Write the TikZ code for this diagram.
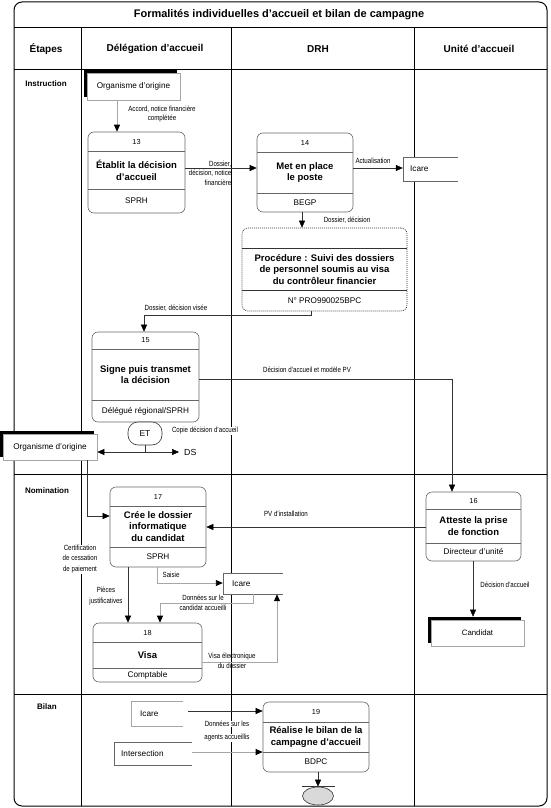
\documentclass[tikz,border=0pt]{standalone}
\usepackage{fontspec}
\setmainfont{Liberation Sans}
\newfontfamily\narrowf[FakeStretch=0.82]{Liberation Sans}
\usetikzlibrary{arrows.meta,shadows,calc,shapes.geometric}
\definecolor{bord}{gray}{0.4}
\definecolor{lite}{gray}{0.65}
\definecolor{dk}{gray}{0.2}
\newcommand\myfs[2]{\fontsize{#1}{#2}\selectfont}
\newcommand\procbox[9]{%
  \node[proc,minimum width={#4-#2},minimum height={#5-#3}] (p#1) at ({(#2+#4)/2},{(#3+#5)/2}) {};
  \draw[divl] (#2,#6) -- (#4,#6) (#2,#7) -- (#4,#7);
  \node[numt] (p#1n) at ({(#2+#4)/2},{(#3+#6)/2}) {#1};
  \node[titt] (p#1t) at ({(#2+#4)/2},{(#6+#7)/2}) {#8};
  \node[rolet] (p#1r) at ({(#2+#4)/2},{(#7+#5)/2}) {#9};
}
\newcommand\storebox[8]{%
  \node[storen,minimum width={#4-#2},minimum height={#5-#3}] (#1) at ({(#2+#4)/2},{(#3+#5)/2}) {};
  \draw[#7] (#1.north east) -- (#1.north west) -- (#1.south west) -- (#1.south east);
  \node[storet,anchor=west] (#1t) at (#8,{(#3+#5)/2}) {#6};
}
\begin{document}
\begin{tikzpicture}[x=1pt,y=-1pt,
  proc/.style={draw=bord,line width=0.6pt,rounded corners=6pt,fill=white,inner sep=0pt},
  divl/.style={draw=bord,line width=0.6pt},
  numt/.style={font=\myfs{7.3}{8},inner sep=0pt},
  titt/.style={font=\bfseries\myfs{9.5}{11.8},align=center,inner sep=0pt},
  rolet/.style={font=\myfs{8.2}{9},inner sep=0pt},
  lab/.style={font=\narrowf\myfs{7.5}{9.5},align=center,inner sep=0.5pt},
  wlab/.style={lab,fill=white},
  ext/.style={draw=lite,line width=0.6pt,fill=white,inner sep=0pt,font=\myfs{8.2}{9},
    general shadow={fill=black,shadow xshift=-3pt,shadow yshift=3pt}},
  storen/.style={fill=white,inner sep=0pt},
  storet/.style={font=\myfs{8.2}{9},inner sep=0pt},
  sdark/.style={draw=bord,line width=0.6pt},
  slite/.style={draw=lite,line width=1pt},
  darrow/.style={draw=dk,line width=0.5pt,-{Triangle[length=7pt,width=6pt,color=black]}},
  garrow/.style={draw=lite,line width=0.9pt,-{Triangle[length=7pt,width=6pt,color=black]}},
  gridl/.style={line width=0.9pt,draw=black},
  head/.style={font=\bfseries\myfs{10}{11},inner sep=0pt},
  rowl/.style={font=\bfseries\myfs{8}{9},inner sep=0pt}
]
\useasboundingbox (0,0) rectangle (550,808);
% frame and grid
\draw[line width=1pt,rounded corners=8pt] (14,2) rectangle (547,806);
\draw[gridl] (14,27) -- (547,27);
\draw[gridl] (14,69) -- (547,69);
\draw[gridl] (14,474) -- (547,474);
\draw[gridl] (14,694) -- (547,694);
\draw[gridl] (81,27) -- (81,806);
\draw[gridl] (231,27) -- (231,806);
\draw[gridl] (414,27) -- (414,806);
% titles
\node[font=\bfseries\myfs{11}{12},inner sep=0pt] (title) at (279,14.5) {Formalités individuelles d’accueil et bilan de campagne};
\node[head] (h1) at (46,49) {Étapes};
\node[head] (h2) at (155,49) {Délégation d’accueil};
\node[head] (h3) at (318,49) {DRH};
\node[head] (h4) at (479,49) {Unité d’accueil};
\node[rowl] (r1) at (46,84) {Instruction};
\node[rowl] (r2) at (47,491) {Nomination};
\node[rowl] (r3) at (47,707) {Bilan};
% external entities
\node[ext,minimum width=93,minimum height=27] (org1) at (133.5,86.5) {Organisme d’origine};
\node[ext,minimum width=94,minimum height=26] (org2) at (50,447) {Organisme d’origine};
\node[ext,minimum width=93,minimum height=26,font=\myfs{7.8}{9}] (cand) at (477.5,633) {Candidat};
% process boxes
\procbox{13}{88}{132}{185}{213}{151}{189}{Établit la décision\\d’accueil}{SPRH}
\procbox{14}{257}{133}{353}{212}{152}{193}{Met en place\\le poste}{BEGP}
\procbox{15}{92}{332}{199}{422}{349}{400}{Signe puis transmet\\la décision}{Délégué régional/SPRH}
\procbox{16}{426}{492}{521}{561}{509}{543}{Atteste la prise\\de fonction}{Directeur d’unité}
\procbox{17}{110}{487}{206}{567}{506}{547}{Crée le dossier\\informatique\\du candidat}{SPRH}
\procbox{18}{93}{623}{202}{682}{642}{668}{Visa}{Comptable}
\procbox{19}{263}{702}{369}{772}{722}{752}{Réalise le bilan de la\\campagne d’accueil}{BDPC}
% procedure (dotted)
\node[proc,draw=dk,dash pattern=on 1pt off 1pt,minimum width=165,minimum height=83] (proc) at (324.5,269.5) {};
\draw[divl,draw=dk] (242,248) -- (407,248) (242,290) -- (407,290);
\node[titt] (proct) at (324.5,269.5) {Procédure : Suivi des dossiers\\de personnel soumis au visa\\du contrôleur financier};
\node[rolet] (procr) at (324.5,300.5) {N° PRO990025BPC};
% stores
\storebox{icare1}{403}{157}{458}{181}{Icare}{sdark}{410}
\storebox{icare2}{223}{573}{283}{594}{Icare}{sdark}{232}
\storebox{icare3}{132}{702}{183}{726}{Icare}{slite}{140}
\storebox{inter}{114}{742}{192}{765}{Intersection}{sdark}{121}
% ET and end
\node[draw=dk,line width=0.6pt,rounded corners=10pt,fill=white,minimum width=34,minimum height=23,inner sep=0pt,font=\myfs{8.5}{9}] (et) at (145,433.5) {ET};
\coordinate (ds) at (179,452);
\node[font=\myfs{8.8}{9},inner sep=0pt,anchor=west] (dst) at (184,452) {DS};
\node[ellipse,draw=dk,line width=0.6pt,fill=gray!30,minimum width=31,minimum height=18,inner sep=0pt] (endn) at (318,796) {};
\coordinate (candtop) at ($(cand.north)+(0,-3)$);
% connectors
\draw[garrow] (117,0 |- org1.south) -- (117,0 |- p13.north);
\draw[darrow] (p13.east |- 0,168) -- (p14.west |- 0,168);
\draw[darrow] (p14.east |- 0,168) -- (icare1.west |- 0,168);
\draw[darrow] (302,0 |- p14.south) -- (302,0 |- proc.north);
\draw[darrow] (311,0 |- proc.south) |- (144,315) -- (144,0 |- p15.north);
\draw[darrow] (p15.east |- 0,379) -| (452,0 |- p16.north);
\draw[draw=dk,line width=0.5pt] (et.south) -- (145,452) coordinate (etj);
\draw[darrow] (etj) -- (org2.east |- etj);
\draw[darrow] (etj) -- (ds);
\draw[darrow] (87,0 |- org2.south) |- (p17.west |- 0,516);
\draw[darrow] (p16.west |- 0,527) -- (p17.east |- 0,527);
\draw[darrow] (473,0 |- p16.south) -- (473,0 |- candtop);
\draw[garrow] (157,0 |- p17.south) |- (icare2.west |- 0,583);
\draw[garrow] (253,0 |- icare2.south) |- (160,603) -- (160,0 |- p18.north);
\draw[darrow] (128,0 |- p17.south) -- (128,0 |- p18.north);
\draw[garrow] (p18.east |- 0,662) -| (277,0 |- icare2.south);
\draw[darrow,shorten <=5pt] (icare3.east |- 0,711) -- (p19.west |- 0,711);
\draw[garrow] (inter.east |- 0,752) -- (p19.west |- 0,752);
\draw[darrow] (318,0 |- p19.south) -- (318,0 |- endn.north);
\draw[draw=dk,line width=0.5pt] ([xshift=-16pt]endn.north) -- ([xshift=17pt]endn.north);
% labels
\node[lab,font=\narrowf\myfs{7.5}{9}] (l1) at (162,114) {Accord, notice financière\\complétée};
\node[lab,align=right,anchor=east] (l2) at (232,173) {Dossier,\\décision, notice\\financière};
\node[lab] (l3) at (373,161) {Actualisation};
\node[lab] (l4) at (347,220) {Dossier, décision};
\node[lab] (l5) at (176,308) {Dossier, décision visée};
\node[lab] (l6) at (307,370) {Décision d’accueil et modèle PV};
\node[wlab] (l7) at (205,431) {Copie décision d’accueil};
\node[lab] (l8) at (286,514) {PV d’installation};
\node[lab] (l9) at (505,585) {Décision d’accueil};
\node[wlab,font=\narrowf\myfs{7.5}{10.5}] (l10) at (80,559) {Certification\\de cessation\\de paiement};
\node[lab,anchor=west] (l11) at (162,575) {Saisie};
\node[lab,font=\narrowf\myfs{7.5}{10.5}] (l12) at (106,596) {Pièces\\justificatives};
\node[lab,font=\narrowf\myfs{7.5}{10}] (l13) at (203,603) {Données sur le\\candidat accueilli};
\node[lab,font=\narrowf\myfs{7.5}{10}] (l14) at (232,661) {Visa électronique\\du dossier};
\node[wlab] (l15) at (227,724) {Données sur les};
\node[wlab] (l16) at (227,738) {agents accueillis};
\end{tikzpicture}
\end{document}
